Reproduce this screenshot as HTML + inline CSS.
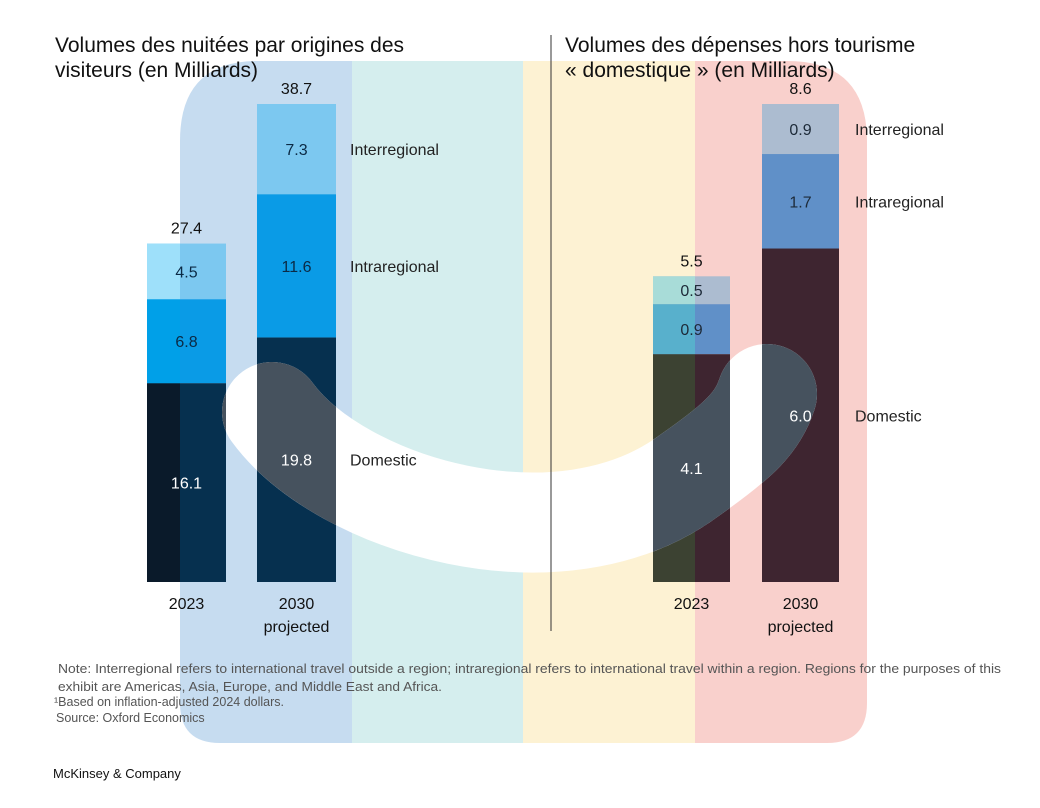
<!DOCTYPE html>
<html><head><meta charset="utf-8">
<style>
body{margin:0;background:#fff;}
svg{display:block;font-family:"Liberation Sans",Arial,sans-serif;}
</style></head>
<body>
<svg id="chart" width="1040" height="808" viewBox="0 0 1040 808" xmlns="http://www.w3.org/2000/svg">
<defs>
  <clipPath id="overlayClip"><path d="M258,61 H787 Q867,61 867,141 V703 Q867,743 827,743 H220 Q180,743 180,703 V141 Q180,61 258,61 Z"/></clipPath>
  <clipPath id="barsClip"></clipPath>
</defs>
<g id="overlay" clip-path="url(#overlayClip)">
  <rect x="180" y="61" width="172" height="682" fill="#5b9bd5" opacity="0.35"/>
  <rect x="352" y="61" width="171" height="682" fill="#87cece" opacity="0.35"/>
  <rect x="523" y="61" width="172" height="682" fill="#f9da81" opacity="0.35"/>
  <rect x="695" y="61" width="172" height="682" fill="#ee796d" opacity="0.35"/>
</g>
<g id="bars"></g>
<path id="smile" d="M272,412 C340,505 560,572 690,475 C740,440 758,422 767,394" fill="none" stroke="#fff" stroke-width="100" stroke-linecap="round"/>
<path d="M272,412 C340,505 560,572 690,475 C740,440 758,422 767,394" fill="none" stroke="#46525e" stroke-width="100" stroke-linecap="round" clip-path="url(#barsClip)"/>
<g id="labels"></g>
<line x1="551" y1="35" x2="551" y2="631" stroke="#333" stroke-width="1"/>
<text x="55" y="52" font-size="21" fill="#111">Volumes des nuitées par origines des</text>
<text x="55" y="77" font-size="21" fill="#111">visiteurs (en Milliards)</text>
<text x="565" y="52" font-size="21" fill="#111">Volumes des dépenses hors tourisme</text>
<text x="565" y="77" font-size="21" fill="#111">« domestique » (en Milliards)</text>
<g font-size="12.5" fill="#555">
<text x="58" y="673" textLength="943" lengthAdjust="spacingAndGlyphs">Note: Interregional refers to international travel outside a region; intraregional refers to international travel within a region. Regions for the purposes of this</text>
<text x="58" y="691" textLength="384" lengthAdjust="spacingAndGlyphs">exhibit are Americas, Asia, Europe, and Middle East and Africa.</text>
<text x="54" y="706">¹Based on inflation-adjusted 2024 dollars.</text>
<text x="56" y="722">Source: Oxford Economics</text>
</g>
<text x="53" y="778" font-size="13" fill="#111">McKinsey &amp; Company</text>
</svg>
<script>
const categories = ["2023", "2030"];
const seriesNames = ["Domestic", "Intraregional", "Interregional"];
const leftDomestic = [16.1, 19.8];
const leftIntra = [6.8, 11.6];
const leftInter = [4.5, 7.3];
const leftTotals = ["27.4", "38.7"];
const rightDomestic = [4.1, 6.0];
const rightIntra = [0.9, 1.7];
const rightInter = [0.5, 0.9];
const rightTotals = ["5.5", "8.6"];

const NS = "http://www.w3.org/2000/svg";
const barsG = document.getElementById('bars');
const labelsG = document.getElementById('labels');
const barsClip = document.getElementById('barsClip');
const baseY = 582, topY = 104;

function mk(tag, attrs, parent){const e=document.createElementNS(NS,tag);for(const k in attrs)e.setAttribute(k,attrs[k]);parent.appendChild(e);return e;}

function drawChart(side, series, totals, xs, width, maxV, colorsIn, colorsOut, splitX, legendX, textCols){
  const scale = v => (baseY - topY) * v / maxV;
  categories.forEach((cat, i) => {
    let y = baseY;
    series.forEach((vals, s) => {
      const h = scale(vals[i]);
      y -= h;
      const x = xs[i];
      const r = mk('rect', {x:x, y:y, width:width, height:h, fill:colorsIn[s]}, barsG);
      
      
      if (x < splitX) {
        const r2 = mk('rect', {x:x, y:y, width:Math.min(width, splitX - x), height:h, fill:colorsOut[s]}, barsG);
        
        
      }
      if (s === 0) mk('rect', {x:x, y:y, width:width, height:h}, barsClip);
      const t = mk('text', {x:x + width/2, y:y + h/2 + 6, 'text-anchor':'middle', 'font-size':16, fill:textCols[s]}, labelsG);
      t.textContent = vals[i].toFixed(1);
      
      
      if (i === categories.length - 1) {
        const lg = mk('text', {x:legendX, y:y + h/2 + 6, 'font-size':16, fill:'#222'}, labelsG);
        lg.textContent = seriesNames[s];
        
        
      }
    });
    const tt = mk('text', {x:xs[i] + width/2, y:y - 10, 'text-anchor':'middle', 'font-size':16, fill:'#111'}, labelsG);
    tt.textContent = totals[i];
    
    
    const c = mk('text', {x:xs[i] + width/2, y:609, 'text-anchor':'middle', 'font-size':16, fill:'#111'}, labelsG);
    c.textContent = cat;
    
    
    if (i === 1) {
      const p = mk('text', {x:xs[i] + width/2, y:632, 'text-anchor':'middle', 'font-size':16, fill:'#111'}, labelsG);
      p.textContent = 'projected';
      
      
    }
  });
}
drawChart('left', [leftDomestic, leftIntra, leftInter], leftTotals, [147, 257], 79, 38.7,
  ['#06304f', '#0a9be6', '#7cc8f0'], ['#0a1a2a', '#00a0e8', '#9ee0fa'], 180, 350,
  ['#fff', '#0b2a45', '#0b2a45']);
drawChart('right', [rightDomestic, rightIntra, rightInter], rightTotals, [653, 762], 77, 8.6,
  ['#3e2530', '#6090c8', '#acbcd0'], ['#3c4232', '#58b0cc', '#a8dcd8'], 695, 855,
  ['#fff', '#1d2a38', '#1d2a38']);
</script>
</body></html>
